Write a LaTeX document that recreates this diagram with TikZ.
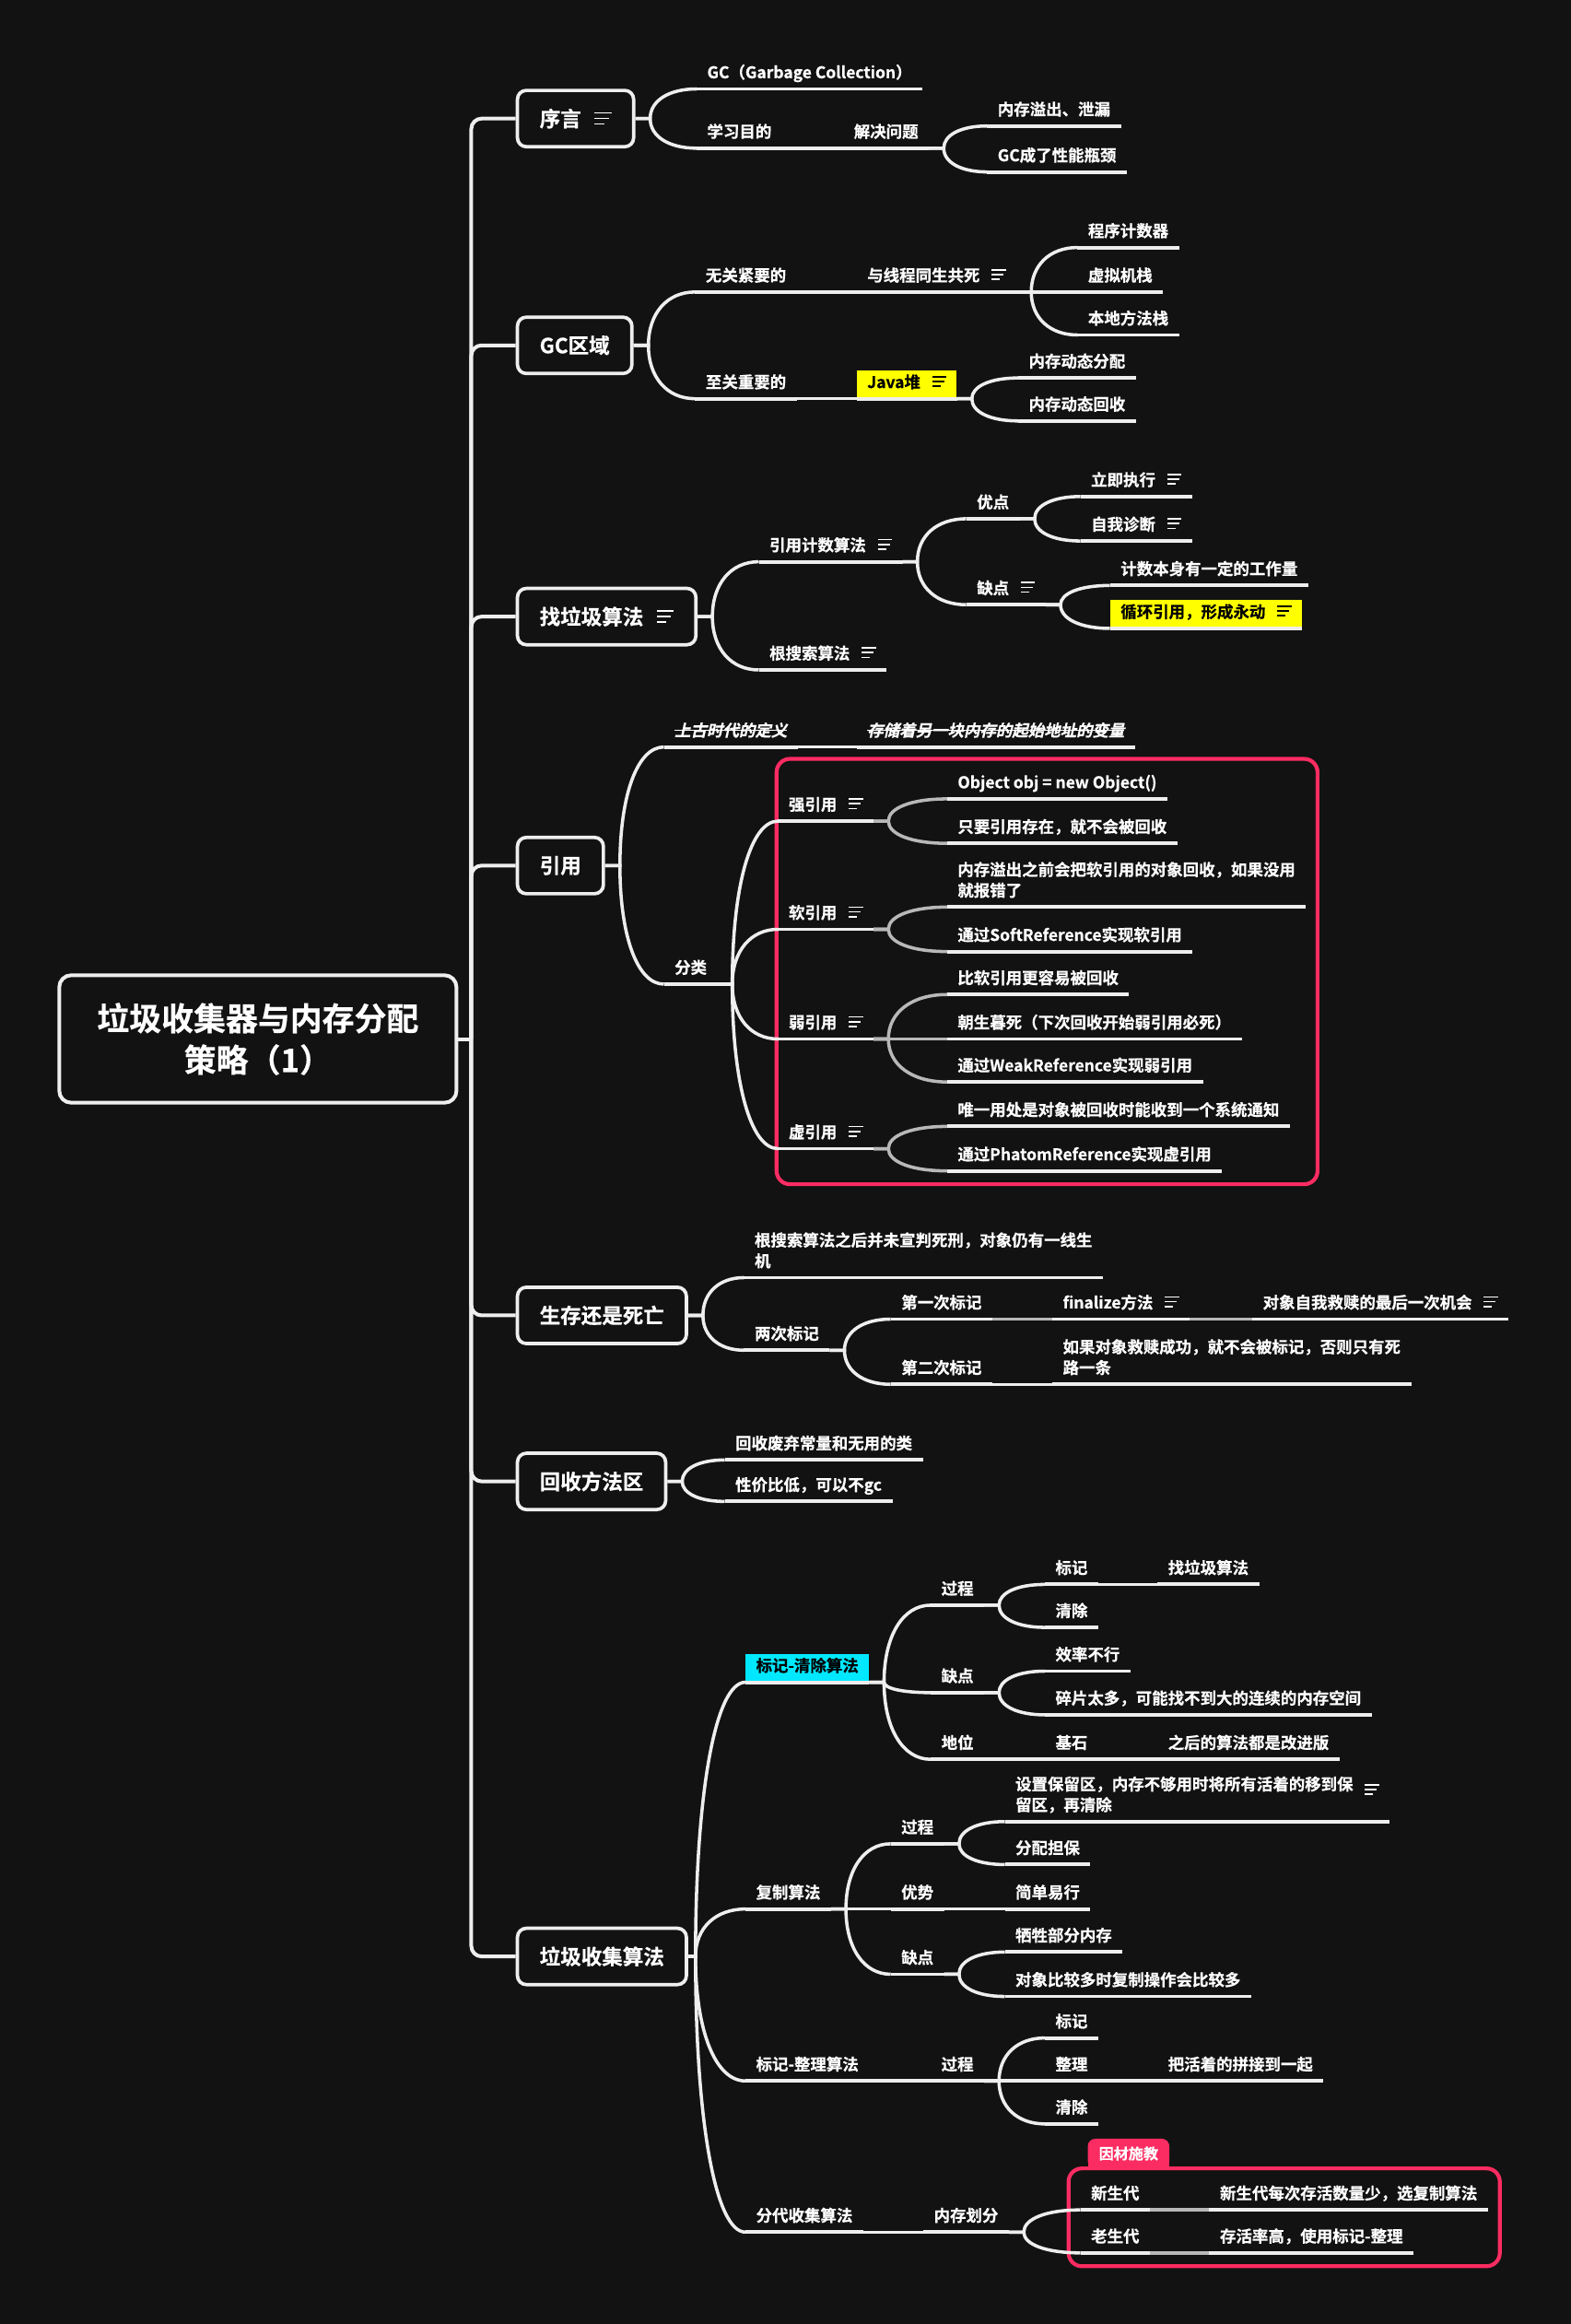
\documentclass[tikz,border=0pt]{standalone}
\usepackage{fontspec}
\IfFontExistsTF{Noto Sans CJK SC Bold}{%
  \setmainfont{Noto Sans CJK SC Bold}[FakeBold=0.45]%
  \newfontfamily\slfont{Noto Sans CJK SC Bold}[FakeBold=0.45,FakeSlant=0.22]%
}{%
  \setmainfont{Noto Sans CJK SC}[FakeBold=1.5]%
  \newfontfamily\slfont{Noto Sans CJK SC}[FakeBold=1.5,FakeSlant=0.22]%
}
\usetikzlibrary{calc}
\definecolor{bgc}{HTML}{121212}
\definecolor{lc}{HTML}{EEEEEE}
\definecolor{lg}{HTML}{B8B8B8}
\definecolor{rd}{HTML}{FB2C62}
\definecolor{cy}{HTML}{00E8FF}
\definecolor{yl}{HTML}{FFFF00}
\newcommand\fsm{\fontsize{10.85}{14}\selectfont}
\newcommand\flv{\fontsize{14}{17}\selectfont}
\newcommand\frt{\fontsize{21.7}{28}\selectfont}
\newcommand\ic[1][white]{{\color{#1}\makebox[9.5pt][l]{\rlap{\rule[7.2pt]{9.5pt}{1pt}}\rlap{\rule[4pt]{8pt}{1pt}}\rule[0.8pt]{5.5pt}{1pt}}}}
\newcommand\icb{{\color{white}\makebox[11.4pt][l]{\rlap{\rule[8.6pt]{11.4pt}{1.1pt}}\rlap{\rule[4.9pt]{9.6pt}{1.1pt}}\rule[1.2pt]{6.4pt}{1.1pt}}}}
\newsavebox\stkbox
\newcommand\stk[1]{\sbox\stkbox{\slfont #1}\rlap{\rule[3.6pt]{\wd\stkbox}{1pt}}\usebox\stkbox}
\newcommand\ml[2]{\begin{tabular}[b]{@{}l@{}}#1\\#2\end{tabular}}
\tikzset{
  ul/.style={draw=lc, line width=2.4pt},
  br/.style={draw=lc, line width=2.2pt},
  brg/.style={draw=lg, line width=2.2pt},
  tk/.style={draw=lc, line width=2.5pt, rounded corners=7pt},
  bnd/.style={draw=rd, line width=2.6pt, rounded corners=9pt},
  sub/.style={anchor=south west, text=white, font=\fsm, inner xsep=7pt, inner ysep=3.5pt, text depth=3.5pt,
    append after command={(\tikzlastnode.south west) edge[ul] (\tikzlastnode.south east)}},
  hl/.style={sub, text=black, text height=8.5pt},
  lvl/.style={anchor=west, draw=lc, line width=2.3pt, rounded corners=6pt, fill=bgc, text=white, font=\flv, inner xsep=15pt, minimum height=38pt},
  rt/.style={draw=lc, line width=2.5pt, rounded corners=8pt, fill=bgc, text=white, font=\frt, align=center, minimum width=268pt, minimum height=86pt},
  tagbox/.style={fill=rd, rounded corners=5pt, minimum width=55pt, minimum height=20pt, inner sep=0pt, text=white, font=\fontsize{10}{12}\selectfont}
}
\newcommand\connx[4]{%
  \path (#3) ++(#2,0) coordinate (cA);
  \path (#4.south west) coordinate (cB);
  \path (cA |- cB) coordinate (cC);
  \draw[#1] (#3) -- (cA) .. controls ($(cA)!0.6!(cC)$) and ($(cB)!0.6!(cC)$) .. (cB);}
\newcommand\cn[2]{\connx{br}{10}{#1.south east}{#2}}
\newcommand\cg[2]{\connx{brg}{10}{#1.south east}{#2}}
\newcommand\cb[3][10]{\connx{br}{#1}{#2.east}{#3}}
\begin{document}
\begin{tikzpicture}[x=1pt,y=-1pt]
\useasboundingbox (0,0) rectangle (1060,1568);
\fill[bgc] (0,0) rectangle (1060,1568);
% boundaries
\draw[bnd] (524,512) rectangle (889,799);
\draw[bnd] (721,1463) rectangle (1012,1529);
\fill[rd] (734,1453) rectangle (789,1464);
\node[tagbox] (tg) at (761.5,1453) {因材施教};
% root and main topics
\node[rt] (root) at (174,701) {垃圾收集器与内存分配\\策略（1）};
\node[lvl] (b1) at (348,80) {序言\hspace{9pt}\icb};
\node[lvl] (b2) at (348,233) {GC区域};
\node[lvl] (b3) at (348,416) {找垃圾算法\hspace{9pt}\icb};
\node[lvl] (b4) at (348,584) {引用};
\node[lvl] (b5) at (348,887.5) {生存还是死亡};
\node[lvl] (b6) at (348,999.5) {回收方法区};
\node[lvl] (b7) at (348,1320) {垃圾收集算法};
\coordinate (tr) at (318,701);
\draw[tk] (root.east) -- (tr);
\foreach \bx in {b1,b2,b3,b4,b5,b6,b7} \draw[tk] (tr) |- (\bx.west);
% 序言
\node[sub] (n1a) at (470,60) {GC（Garbage Collection）};
\node[sub] (n1b) at (470,100) {学习目的};
\node[sub] (n1c) at (569,100) {解决问题};
\node[sub] (n1d) at (666,85) {内存溢出、泄漏};
\node[sub] (n1e) at (666,116) {GC成了性能瓶颈};
% GC区域
\node[sub] (n2a) at (469,197) {无关紧要的};
\node[sub] (n2b) at (578,197) {与线程同生共死\hspace{8pt}\ic};
\node[sub] (n2c) at (727,167) {程序计数器};
\node[sub] (n2d) at (727,197) {虚拟机栈};
\node[sub] (n2e) at (727,226) {本地方法栈};
\node[sub] (n2f) at (469,269) {至关重要的};
\node[hl,fill=yl] (n2g) at (578,269) {Java堆\hspace{8pt}\ic[black]};
\node[sub] (n2h) at (687,255) {内存动态分配};
\node[sub] (n2i) at (687,284) {内存动态回收};
% 找垃圾算法
\node[sub] (n3a) at (512,379) {引用计数算法\hspace{8pt}\ic};
\node[sub] (n3b) at (512,452) {根搜索算法\hspace{8pt}\ic};
\node[sub] (n3c) at (652,350) {优点};
\node[sub] (n3d) at (652,408) {缺点\hspace{8pt}\ic};
\node[sub] (n3e) at (729,335) {立即执行\hspace{8pt}\ic};
\node[sub] (n3f) at (729,365) {自我诊断\hspace{8pt}\ic};
\node[sub] (n3g) at (749,395) {计数本身有一定的工作量};
\node[hl,fill=yl] (n3h) at (749,424) {循环引用，形成永动\hspace{8pt}\ic[black]};
% 引用
\node[sub] (n4a) at (448,504) {\stk{上古时代的定义}};
\node[sub] (n4b) at (578,504) {\stk{存储着另一块内存的起始地址的变量}};
\node[sub] (n4c) at (448,664) {分类};
\node[sub] (n4d) at (525,554) {强引用\hspace{8pt}\ic};
\node[sub] (n4e) at (639,539) {Object obj = new Object()};
\node[sub] (n4f) at (639,569) {只要引用存在，就不会被回收};
\node[sub] (n4g) at (525,627) {软引用\hspace{8pt}\ic};
\node[sub] (n4h) at (639,612) {\ml{内存溢出之前会把软引用的对象回收，如果没用}{就报错了}};
\node[sub] (n4i) at (639,642) {通过SoftReference实现软引用};
\node[sub] (n4j) at (525,701) {弱引用\hspace{8pt}\ic};
\node[sub] (n4k) at (639,671) {比软引用更容易被回收};
\node[sub] (n4l) at (639,701) {朝生暮死（下次回收开始弱引用必死）};
\node[sub] (n4m) at (639,730) {通过WeakReference实现弱引用};
\node[sub] (n4n) at (525,775) {虚引用\hspace{8pt}\ic};
\node[sub] (n4o) at (639,760) {唯一用处是对象被回收时能收到一个系统通知};
\node[sub] (n4p) at (639,790) {通过PhatomReference实现虚引用};
% 生存还是死亡
\node[sub] (n5a) at (502,862) {\ml{根搜索算法之后并未宣判死刑，对象仍有一线生}{机}};
\node[sub] (n5b) at (502,911) {两次标记};
\node[sub] (n5c) at (601,890) {第一次标记};
\node[sub] (n5d) at (710,890) {finalize方法\hspace{8pt}\ic};
\node[sub] (n5e) at (845,890) {对象自我救赎的最后一次机会\hspace{8pt}\ic};
\node[sub] (n5f) at (601,934) {第二次标记};
\node[sub] (n5g) at (710,934) {\ml{如果对象救赎成功，就不会被标记，否则只有死}{路一条}};
% 回收方法区
\node[sub] (n6a) at (489,985) {回收废弃常量和无用的类};
\node[sub] (n6b) at (489,1013) {性价比低，可以不gc};
% 垃圾收集算法
\node[hl,fill=cy] (n7a) at (503,1135) {标记-清除算法};
\node[sub] (n7b) at (628,1083) {过程};
\node[sub] (n7c) at (705,1069) {标记};
\node[sub] (n7d) at (781,1069) {找垃圾算法};
\node[sub] (n7e) at (705,1098) {清除};
\node[sub] (n7f) at (628,1142) {缺点};
\node[sub] (n7g) at (705,1127.5) {效率不行};
\node[sub] (n7h) at (705,1157) {碎片太多，可能找不到大的连续的内存空间};
\node[sub] (n7i) at (628,1187) {地位};
\node[sub] (n7j) at (705,1187) {基石};
\node[sub] (n7k) at (781,1187) {之后的算法都是改进版};
\node[sub] (n7l) at (503,1288) {复制算法};
\node[sub] (n7m) at (601,1244) {过程};
\node[sub] (n7n) at (678,1229) {\ml{设置保留区，内存不够用时将所有活着的移到保}{留区，再清除}\hspace{8pt}\raisebox{10pt}{\ic}};
\node[sub] (n7o) at (678,1258) {分配担保};
\node[sub] (n7p) at (601,1288) {优势};
\node[sub] (n7q) at (678,1288) {简单易行};
\node[sub] (n7r) at (601,1332) {缺点};
\node[sub] (n7s) at (678,1317) {牺牲部分内存};
\node[sub] (n7t) at (678,1347) {对象比较多时复制操作会比较多};
\node[sub] (n7u) at (503,1404) {标记-整理算法};
\node[sub] (n7v) at (628,1404) {过程};
\node[sub] (n7w) at (705,1375) {标记};
\node[sub] (n7x) at (705,1404) {整理};
\node[sub] (n7y) at (781,1404) {把活着的拼接到一起};
\node[sub] (n7z) at (705,1433) {清除};
\node[sub] (n7A) at (503,1506) {分代收集算法};
\node[sub] (n7B) at (623,1506) {内存划分};
\node[sub] (n7C) at (729,1491) {新生代};
\node[sub] (n7D) at (816,1491) {新生代每次存活数量少，选复制算法};
\node[sub] (n7E) at (729,1520) {老生代};
\node[sub] (n7F) at (816,1520) {存活率高，使用标记-整理};
% connectors
\cb{b1}{n1a} \cb{b1}{n1b} \cn{n1b}{n1c} \cn{n1c}{n1d} \cn{n1c}{n1e}
\cb{b2}{n2a} \cb{b2}{n2f} \cn{n2a}{n2b} \cn{n2b}{n2c} \cn{n2b}{n2d} \cn{n2b}{n2e}
\cn{n2f}{n2g} \cn{n2g}{n2h} \cn{n2g}{n2i}
\cb{b3}{n3a} \cb{b3}{n3b} \cn{n3a}{n3c} \cn{n3a}{n3d} \cn{n3c}{n3e} \cn{n3c}{n3f}
\cn{n3d}{n3g} \cn{n3d}{n3h}
\cb{b4}{n4a} \cb{b4}{n4c} \cn{n4a}{n4b}
\cn{n4c}{n4d} \cn{n4c}{n4g} \cn{n4c}{n4j} \cn{n4c}{n4n}
\cg{n4d}{n4e} \cg{n4d}{n4f} \cg{n4g}{n4h} \cg{n4g}{n4i}
\cg{n4j}{n4k} \cg{n4j}{n4l} \cg{n4j}{n4m} \cg{n4n}{n4o} \cg{n4n}{n4p}
\cb{b5}{n5a} \cb{b5}{n5b} \cn{n5b}{n5c} \cn{n5b}{n5f} \cg{n5c}{n5d} \cg{n5d}{n5e} \cn{n5f}{n5g}
\cb{b6}{n6a} \cb{b6}{n6b}
\cb[5]{b7}{n7a} \cb[5]{b7}{n7l} \cb[5]{b7}{n7u} \cb[5]{b7}{n7A}
\cn{n7a}{n7b} \cn{n7a}{n7f} \cn{n7a}{n7i}
\cn{n7b}{n7c} \cn{n7b}{n7e} \cn{n7c}{n7d}
\cn{n7f}{n7g} \cn{n7f}{n7h} \cn{n7i}{n7j} \cn{n7j}{n7k}
\cn{n7l}{n7m} \cn{n7l}{n7p} \cn{n7l}{n7r}
\cn{n7m}{n7n} \cn{n7m}{n7o} \cn{n7p}{n7q} \cn{n7r}{n7s} \cn{n7r}{n7t}
\cn{n7u}{n7v} \cn{n7v}{n7w} \cn{n7v}{n7x} \cn{n7v}{n7z} \cn{n7x}{n7y}
\cn{n7A}{n7B} \cn{n7B}{n7C} \cn{n7B}{n7E} \cg{n7C}{n7D} \cg{n7E}{n7F}
\end{tikzpicture}
\end{document}
